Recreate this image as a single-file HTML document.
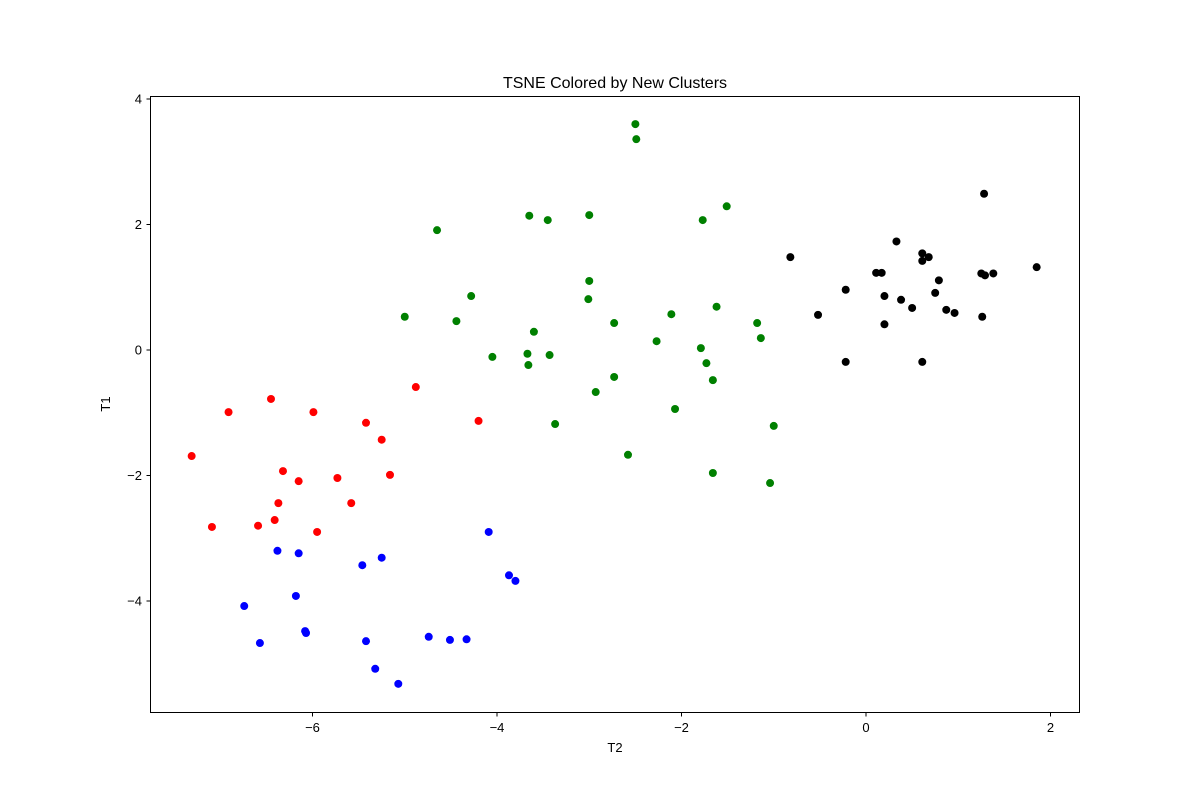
<!DOCTYPE html>
<html><head><meta charset="utf-8"><style>
html,body{margin:0;padding:0;background:#fff;}
svg{display:block;font-family:"Liberation Sans","DejaVu Sans",sans-serif;}
</style></head><body>
<svg id="chart" width="1200" height="800">
<rect x="0" y="0" width="1200" height="800" fill="#fff"/>
<text x="615" y="88" font-size="16" text-anchor="middle">TSNE Colored by New Clusters</text>
<text x="615" y="752" font-size="13" text-anchor="middle">T2</text>
<text x="110" y="404" font-size="13" text-anchor="middle" transform="rotate(-90 110 404)">T1</text>
<g id="axes"></g>
<g id="points"></g>
<rect x="150.5" y="96.5" width="929" height="616" fill="none" stroke="#000" stroke-width="1"/>
</svg>
<script>
const xTicks=[-6,-4,-2,0,2];
const yTicks=[-4,-2,0,2,4];
const redX=[-7.31,-7.09,-6.91,-6.59,-6.45,-6.41,-6.37,-6.32,-6.15,-5.99,-5.95,-5.73,-5.58,-5.42,-5.25,-5.16,-4.88,-4.20];
const redY=[-1.69,-2.82,-0.99,-2.80,-0.78,-2.71,-2.44,-1.93,-2.09,-0.99,-2.90,-2.04,-2.44,-1.16,-1.43,-1.99,-0.59,-1.13];
const blueX=[-6.74,-6.38,-6.57,-6.18,-6.15,-6.08,-6.07,-5.46,-5.42,-5.32,-5.25,-5.07,-4.74,-4.51,-4.33,-4.09,-3.87,-3.80];
const blueY=[-4.08,-3.20,-4.67,-3.92,-3.24,-4.48,-4.51,-3.43,-4.64,-5.08,-3.31,-5.32,-4.57,-4.62,-4.61,-2.90,-3.59,-3.68];
const greenX=[-5.00,-4.65,-4.44,-4.28,-4.05,-3.67,-3.66,-3.65,-3.60,-3.45,-3.43,-3.37,-3.00,-3.00,-3.01,-2.93,-2.73,-2.73,-2.58,-2.50,-2.49,-2.27,-2.11,-2.07,-1.79,-1.77,-1.73,-1.66,-1.66,-1.62,-1.51,-1.18,-1.14,-1.04,-1.00];
const greenY=[0.53,1.91,0.46,0.86,-0.11,-0.06,-0.24,2.14,0.29,2.07,-0.08,-1.18,2.15,1.10,0.81,-0.67,0.43,-0.43,-1.67,3.60,3.36,0.14,0.57,-0.94,0.03,2.07,-0.21,-0.48,-1.96,0.69,2.29,0.43,0.19,-2.12,-1.21];
const blackX=[-0.82,-0.52,-0.22,-0.22,0.11,0.17,0.20,0.20,0.33,0.38,0.50,0.61,0.61,0.61,0.68,0.75,0.79,0.87,0.96,1.26,1.25,1.28,1.29,1.38,1.85];
const blackY=[1.48,0.56,0.96,-0.19,1.23,1.23,0.86,0.41,1.73,0.80,0.67,1.54,1.42,-0.19,1.48,0.91,1.11,0.64,0.59,0.53,1.22,2.49,1.19,1.22,1.32];

const NS="http://www.w3.org/2000/svg";
function sx(v){return 866+92.25*v;}
function sy(v){return 350-62.75*v;}
const axes=document.getElementById('axes');
xTicks.forEach(t=>{
  const px=sx(t);
  const l=document.createElementNS(NS,'line');
  l.setAttribute('x1',px);l.setAttribute('x2',px);l.setAttribute('y1',712.5);l.setAttribute('y2',716.5);l.setAttribute('stroke','#000');
  
  
  axes.appendChild(l);
  const tx=document.createElementNS(NS,'text');
  tx.setAttribute('x',px);tx.setAttribute('y',732);tx.setAttribute('font-size','13');tx.setAttribute('text-anchor','middle');
  tx.textContent=(t<0?'\u2212'+(-t):''+t);
  
  
  axes.appendChild(tx);
});
yTicks.forEach(t=>{
  const py=sy(t);
  const l=document.createElementNS(NS,'line');
  l.setAttribute('x1',146.5);l.setAttribute('x2',150.5);l.setAttribute('y1',py);l.setAttribute('y2',py);l.setAttribute('stroke','#000');
  
  
  axes.appendChild(l);
  const tx=document.createElementNS(NS,'text');
  tx.setAttribute('x',142);tx.setAttribute('y',py+4.5);tx.setAttribute('font-size','13');tx.setAttribute('text-anchor','end');
  tx.textContent=(t<0?'\u2212'+(-t):''+t);
  
  
  axes.appendChild(tx);
});
const pts=document.getElementById('points');
function series(xs,ys,color,name){
  xs.forEach((x,i)=>{
    const c=document.createElementNS(NS,'circle');
    c.setAttribute('cx',sx(x));c.setAttribute('cy',sy(ys[i]));c.setAttribute('r',4);c.setAttribute('fill',color);
    
    
    pts.appendChild(c);
  });
}
series(redX,redY,'#ff0000','red-cluster-point');
series(blueX,blueY,'#0000ff','blue-cluster-point');
series(greenX,greenY,'#008000','green-cluster-point');
series(blackX,blackY,'#000000','black-cluster-point');
</script>
</body></html>
